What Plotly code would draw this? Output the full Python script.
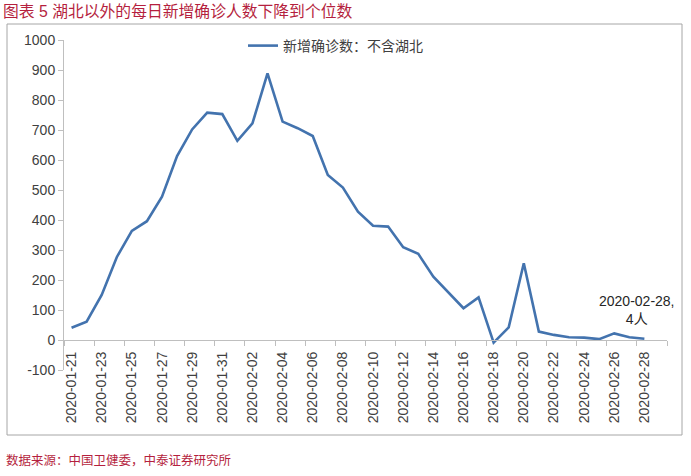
import plotly.graph_objects as go
import pandas as pd

# ---- data ----
dates = pd.date_range("2020-01-21", "2020-02-28", freq="D").strftime("%Y-%m-%d").tolist()
new_cases_ex_hubei = [41, 61, 150, 276, 364, 396, 478, 613, 702, 758, 753,
                      664, 722, 889, 728, 706, 680, 550, 508, 428, 381, 378,
                      309, 287, 211, 158, 106, 142, -9, 42, 256, 28, 17, 9,
                      8, 3, 22, 9, 4]
series_name = "新增确诊数：不含湖北"
y_ticks = list(range(-100, 1001, 100))
y_tick_labels = [str(v) for v in y_ticks]
title_text = "图表 5 湖北以外的每日新增确诊人数下降到个位数"
source_text = "数据来源：中国卫健委，中泰证券研究所"
note_text = "2020-02-28,<br>4人"

W, H = 691, 476
L, R, T, B = 64, 24, 40, 106
PW, PH = W - L - R, H - T - B

def px_x(p):
    return (p - L) / PW

def px_y(p):
    return (H - B - p) / PH

FONT = "Liberation Sans, Arial, Noto Sans CJK SC, sans-serif"
TXT = "#404040"
AX = "#bfbfbf"
RED = "#b51f3e"
BLUE = "#4373ae"

fig = go.Figure()
fig.add_trace(go.Scatter(x=dates, y=new_cases_ex_hubei, mode="lines",
                         name=series_name,
                         line=dict(color=BLUE, width=2.6)))

y_min, y_max = y_ticks[0], y_ticks[-1]
fig.update_layout(
    width=W, height=H,
    margin=dict(l=L, r=R, t=T, b=B),
    paper_bgcolor="white", plot_bgcolor="white",
    font=dict(family=FONT, size=14, color=TXT),
    showlegend=True,
    legend=dict(x=px_x(243), y=px_y(46), xanchor="left", yanchor="middle",
                orientation="h", bgcolor="rgba(0,0,0,0)",
                font=dict(size=14, color=TXT), itemwidth=30),
    title=dict(text=title_text, x=3 / W, y=1 - 11 / H, xanchor="left",
               yanchor="middle", xref="container", yref="container",
               font=dict(size=15.8, color=RED)),
    xaxis=dict(type="date",
               range=["2020-01-20 12:00", "2020-02-29 12:00"],
               anchor="free", position=(0 - y_min) / (y_max - y_min),
               showline=True, linecolor=AX, linewidth=1,
               tickmode="array", tickvals=dates[::2], tickformat="%Y-%m-%d",
               tickangle=-90, ticks="outside", ticklen=5,
               tickcolor="rgba(0,0,0,0)",
               minor=dict(ticks="outside", ticklen=5, tickcolor=AX,
                          tick0="2020-01-20 12:00", dtick=2 * 86400000,
                          showgrid=False),
               showgrid=False, zeroline=False,
               tickfont=dict(size=14, color=TXT)),
    yaxis=dict(range=[y_min, y_max], tickmode="array", tickvals=y_ticks,
               ticktext=y_tick_labels,
               showline=True, linecolor=AX, linewidth=1,
               ticks="outside", ticklen=5, tickcolor=AX,
               showgrid=False, zeroline=False,
               tickfont=dict(size=14, color=TXT)),
)

# outer frame
fig.add_shape(type="rect", xref="paper", yref="paper",
              x0=px_x(7), x1=px_x(682), y0=px_y(435), y1=px_y(24),
              line=dict(color="#a6a6a6", width=1), fillcolor="rgba(0,0,0,0)",
              layer="below")

# annotation for last value
fig.add_annotation(x=dates[-1], y=new_cases_ex_hubei[-1], xref="x", yref="y",
                   text=note_text, showarrow=False, xanchor="center",
                   yanchor="bottom", xshift=-7, yshift=10, align="center",
                   font=dict(size=14, color="#262626"))

# source
fig.add_annotation(x=px_x(4), y=px_y(460), xref="paper", yref="paper",
                   text=source_text, showarrow=False, xanchor="left",
                   yanchor="middle", font=dict(size=12.5, color=RED))

fig.write_html("out.html")
